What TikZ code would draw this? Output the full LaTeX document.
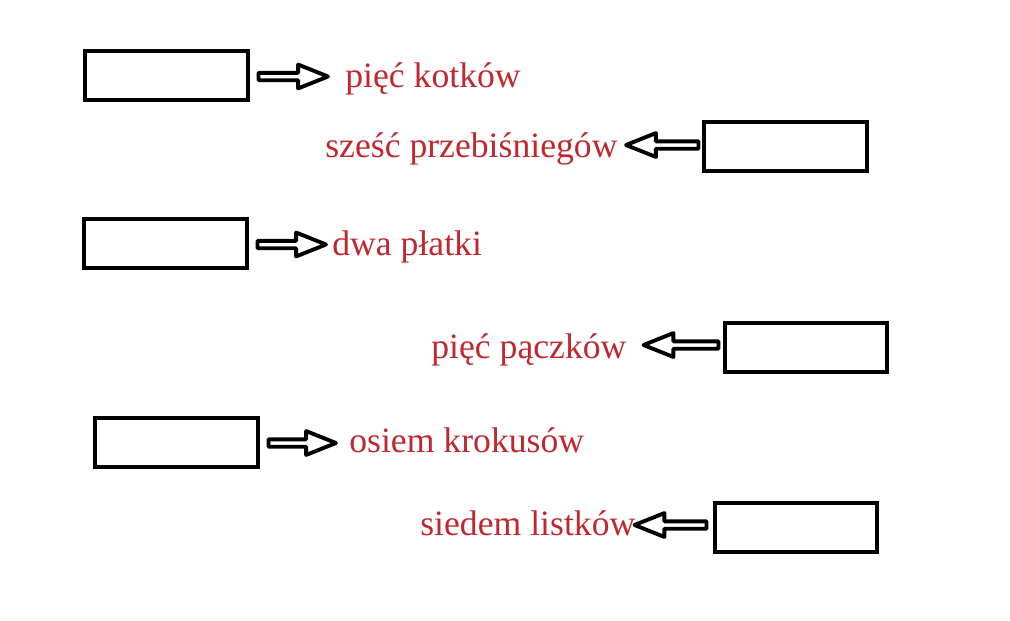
\documentclass[tikz,border=0pt]{standalone}
\usepackage{fontspec}
\setmainfont{Liberation Serif}
\usetikzlibrary{calc}

\definecolor{wordred}{RGB}{192,40,48}

\tikzset{
    box/.style={draw, line width=0.08cm, rectangle, inner sep=0pt, outer sep=0pt,
        minimum width=3.26cm, minimum height=0.98cm},
    word/.style={anchor=base west, inner sep=0pt, text=wordred,
        font=\fontsize{20.3}{24}\selectfont},
    fat/.style={draw, fill=white, line width=2.2pt, line join=round}
}

% hollow block arrow from #1 (shaft end) to #2 (tip)
\newcommand{\fatarrow}[2]{%
    \draw[fat] ($(#1)!2.1pt!90:(#2)$)
        -- ($(#2)!17pt!(#1)!2.1pt!-90:(#1)$)
        -- ($(#2)!17pt!(#1)!6.8pt!-90:(#1)$)
        -- (#2)
        -- ($(#2)!17pt!(#1)!6.8pt!90:(#1)$)
        -- ($(#2)!17pt!(#1)!2.1pt!90:(#1)$)
        -- ($(#1)!2.1pt!-90:(#2)$) -- cycle;}

\begin{document}
\begin{tikzpicture}[x=0.02cm, y=-0.02cm]
    \useasboundingbox (0,0) rectangle (1010,620);

    \node[box] (b1) at (166.5,75)  {};
    \node[box] (b2) at (785.5,146) {};
    \node[box] (b3) at (165.5,243.5) {};
    \node[box] (b4) at (806,347)   {};
    \node[box] (b5) at (176.5,442) {};
    \node[box] (b6) at (796,527)   {};

    \node[word] (t1) at (345,87)  {pięć kotków};
    \node[word] (t2) at (325,157) {sześć przebiśniegów};
    \node[word] (t3) at (332,255) {dwa płatki};
    \node[word] (t4) at (431,358) {pięć pączków};
    \node[word] (t5) at (349,452) {osiem krokusów};
    \node[word] (t6) at (420,535) {siedem listków};

    \coordinate (s1) at ($(b1.east)+(10.5,1.5)$);
    \coordinate (e1) at ($(b1.east)+(80,1.5)$);
    \coordinate (s2) at ($(b2.west)+(-5.5,-1)$);
    \coordinate (e2) at ($(b2.west)+(-78,-1)$);
    \coordinate (s3) at ($(b3.east)+(10.5,1)$);
    \coordinate (e3) at ($(b3.east)+(79,1)$);
    \coordinate (s4) at ($(b4.west)+(-6,-2)$);
    \coordinate (e4) at ($(b4.west)+(-81,-2)$);
    \coordinate (s5) at ($(b5.east)+(10.5,1)$);
    \coordinate (e5) at ($(b5.east)+(78,1)$);
    \coordinate (s6) at ($(b6.west)+(-8,-2)$);
    \coordinate (e6) at ($(b6.west)+(-80,-2)$);

    \fatarrow{s1}{e1}
    \fatarrow{s2}{e2}
    \fatarrow{s3}{e3}
    \fatarrow{s4}{e4}
    \fatarrow{s5}{e5}
    \fatarrow{s6}{e6}
\end{tikzpicture}
\end{document}
